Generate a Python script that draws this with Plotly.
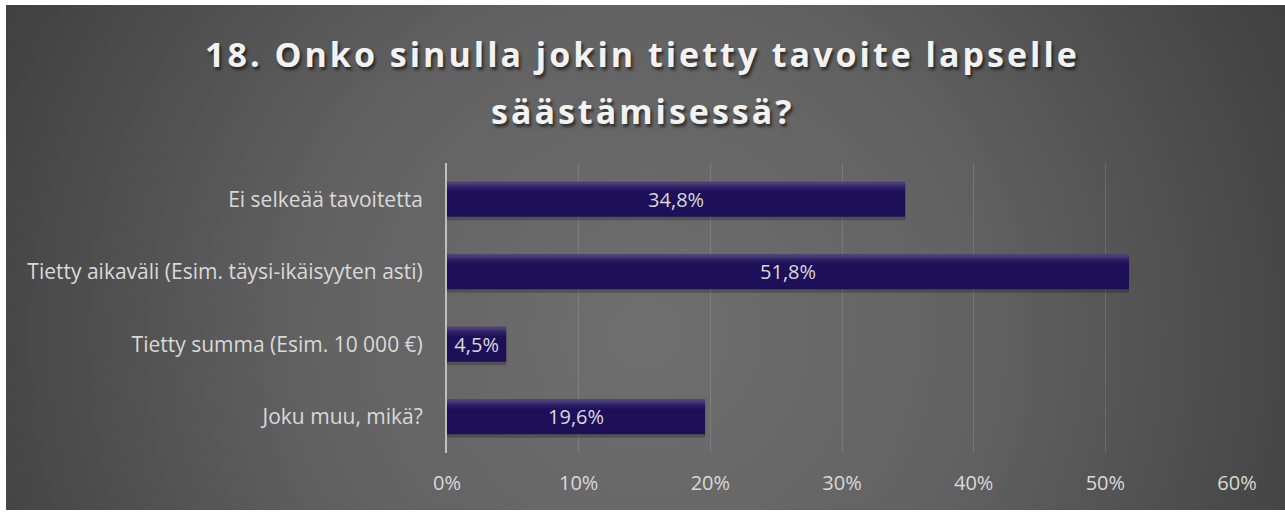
import base64
import plotly.graph_objects as go

# Survey answers (share of respondents)
categories = [
    "Ei selkeää tavoitetta",
    "Tietty aikaväli (Esim. täysi-ikäisyyten asti)",
    "Tietty summa (Esim. 10 000 €)",
    "Joku muu, mikä?",
]
shares = [0.348, 0.518, 0.045, 0.196]
tick_values = [0, 0.1, 0.2, 0.3, 0.4, 0.5, 0.6]
tick_labels = ["0%", "10%", "20%", "30%", "40%", "50%", "60%"]
title_lines = ["18. Onko sinulla jokin tietty tavoite lapselle", "säästämisessä?"]

W, H = 1285, 512
ML, MR, MT, MB = 447, 48, 163, 59
PW, PH = W - ML - MR, H - MT - MB

FONT = "Open Sans, sans-serif"
LABEL_GREY = "#d9d9d9"
BAR_DARK = "#1d1059"
BAR_W = 0.48
half = BAR_W / 2


def paper_y(px):
    return (H - MB - px) / PH


# radial grey backdrop as an inline SVG
bg_w, bg_h = W - 6, H - 5 - 2
svg = f"""<svg xmlns='http://www.w3.org/2000/svg' width='{bg_w}' height='{bg_h}' viewBox='0 0 {bg_w} {bg_h}' preserveAspectRatio='none'>
<defs><radialGradient id='g' gradientUnits='userSpaceOnUse' cx='640' cy='330' r='730'>
<stop offset='0' stop-color='#6f6f6f'/><stop offset='0.45' stop-color='#626262'/><stop offset='1' stop-color='#3f3f3f'/>
</radialGradient></defs><rect width='{bg_w}' height='{bg_h}' fill='url(#g)'/></svg>"""
bg_src = "data:image/svg+xml;base64," + base64.b64encode(svg.encode()).decode()

fig = go.Figure()

# soft drop shadow under each bar
fig.add_trace(go.Bar(
    y=categories, x=shares, orientation="h",
    width=BAR_W, offset=-half + 0.05,
    marker=dict(color="rgba(0,0,0,0.22)", line=dict(width=0)),
    hoverinfo="skip", showlegend=False,
))
# main bar body
fig.add_trace(go.Bar(
    y=categories, x=shares, orientation="h",
    width=BAR_W, offset=-half,
    marker=dict(color=BAR_DARK, line=dict(width=0)),
    hoverinfo="skip", showlegend=False,
))
# lighter sheen along the top edge of each bar
bands = [(0.000, 0.035, 0.20), (0.035, 0.030, 0.13), (0.065, 0.030, 0.07), (0.095, 0.030, 0.03)]
for start, size, alpha in bands:
    fig.add_trace(go.Bar(
        y=categories, x=shares, orientation="h",
        width=size, offset=-half + start,
        marker=dict(color=f"rgba(255,255,255,{alpha})", line=dict(width=0)),
        hoverinfo="skip", showlegend=False,
    ))
# value labels
fig.add_trace(go.Bar(
    y=categories, x=shares, orientation="h",
    width=BAR_W, offset=-half,
    marker=dict(color="rgba(0,0,0,0)", line=dict(width=0)),
    texttemplate="%{x:.1%}", textposition="inside", insidetextanchor="middle",
    constraintext="none",
    textfont=dict(family=FONT, size=20, color=LABEL_GREY),
    hovertemplate="%{y}: %{x:.1%}<extra></extra>", showlegend=False,
))

title_font = dict(family=FONT, size=34, weight="bold", color="#f2f2f2",
                  shadow="2px 3px 3px rgba(0,0,0,0.55)")
annotations = [
    dict(text=line, x=0.5 * (W) / PW - ML / PW, xref="paper", xanchor="center",
         y=paper_y(py), yref="paper", yanchor="middle",
         showarrow=False, font=title_font)
    for line, py in zip(title_lines, [54, 111])
]

fig.update_layout(
    width=W, height=H,
    margin=dict(l=ML, r=MR, t=MT, b=MB, pad=0),
    paper_bgcolor="white",
    plot_bgcolor="rgba(0,0,0,0)",
    barmode="overlay",
    separators=", ",
    annotations=annotations,
    xaxis=dict(
        range=[0, 0.6], tickvals=tick_values, ticktext=tick_labels,
        showgrid=True, gridcolor="rgba(255,255,255,0.13)", gridwidth=1,
        zeroline=False, showline=False,
        ticks="outside", ticklen=12, tickcolor="rgba(0,0,0,0)",
        tickfont=dict(family=FONT, size=20, color=LABEL_GREY),
        fixedrange=True,
    ),
    yaxis=dict(
        categoryorder="array", categoryarray=categories, autorange="reversed",
        showgrid=False, zeroline=False,
        showline=True, linecolor="#bfbfbf", linewidth=2,
        ticks="outside", ticklen=18, tickcolor="rgba(0,0,0,0)",
        tickfont=dict(family=FONT, size=21, color=LABEL_GREY),
        fixedrange=True,
    ),
    images=[dict(
        source=bg_src, xref="paper", yref="paper",
        x=(6 - ML) / PW, y=paper_y(5),
        sizex=bg_w / PW, sizey=bg_h / PH,
        xanchor="left", yanchor="top", sizing="stretch", layer="below",
    )],
)

# widen the tracking of the heading lines
spacing_js = """
document.querySelectorAll('.annotation-text').forEach(function (t) {
  t.style.letterSpacing = '3px';
});
"""

fig.write_html("out.html", post_script=spacing_js)
